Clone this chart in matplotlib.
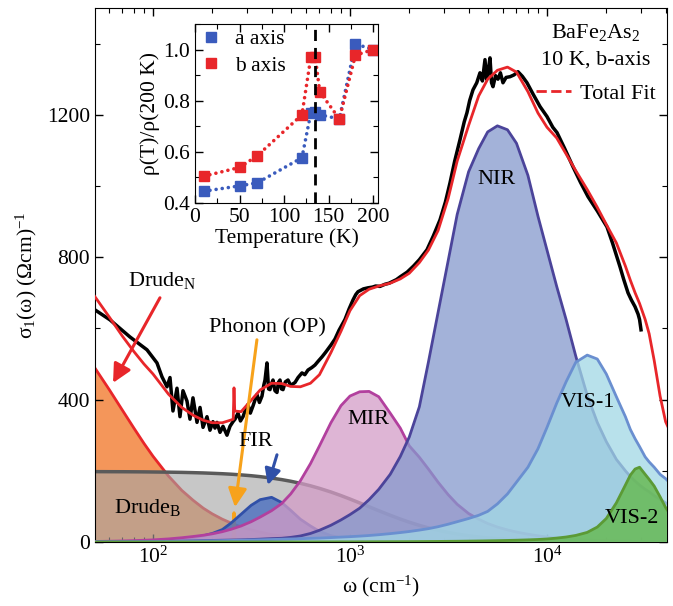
import matplotlib
matplotlib.use('Agg')
import matplotlib.pyplot as plt
from matplotlib.lines import Line2D
from matplotlib.ticker import MultipleLocator

# Rejilla de frecuencias (cm^-1) comun a todas las componentes del ajuste
omega = [50, 60, 70, 80, 90,
         100, 120, 140, 160, 180,
         200, 225, 250, 280, 315,
         350, 400, 450, 500, 560,
         630, 700, 800, 900, 1000,
         1120, 1250, 1400, 1600, 1800,
         2000, 2250, 2500, 2800, 3150,
         3500, 4000, 4500, 5000, 5600,
         6300, 7000, 8000, 9000, 10000,
         11200, 12500, 14000, 16000, 18000,
         20000, 22500, 25000, 26500, 28000,
         29500, 31500, 33000, 35000, 37500,
         40000, 41000]

# Componentes Drude-Lorentz, sigma_1 en (Ohm cm)^-1
drude_n = [494, 428, 370, 320, 277,
           241, 185, 145, 117, 95,
           79, 64, 53, 42, 34,
           28, 21, 17, 14, 11,
           8.8, 7.1, 5.5, 4.3, 3.5,
           2.8, 2.2, 1.8, 1.4, 1.1,
           0.9, 0.7, 0.6, 0.45, 0.36,
           0.29, 0.22, 0.17, 0.14, 0.11,
           0.09, 0.07, 0.05, 0.04, 0.03,
           0.03, 0.02, 0.02, 0.01, 0.01,
           0.01, 0.01, 0, 0, 0,
           0, 0, 0, 0, 0,
           0, 0]
drude_b = [197.7, 197.5, 197.4, 197.2, 197.0,
           196.7, 196.2, 195.6, 194.8, 194.0,
           193.0, 191.8, 190.4, 188.5, 186.2,
           183.6, 179.6, 175.3, 170.7, 164.9,
           157.9, 150.7, 140.5, 130.4, 120.7,
           109.8, 99.0, 87.8, 75.1, 64.4,
           55.6, 46.7, 39.6, 32.9, 26.9,
           22.4, 17.6, 14.2, 11.6, 9.4,
           7.5, 6.1, 4.7, 3.75, 3.05,
           2.44, 1.96, 1.57, 1.2, 0.95,
           0.77, 0.61, 0.49, 0.44, 0.39,
           0.35, 0.31, 0.28, 0.25, 0.22,
           0.19, 0.18]
fir = [0.5, 0.8, 1.2, 1.8, 2.5,
       3.3, 5.5, 8.5, 12.5, 17.5,
       24, 35, 54, 78, 103,
       119, 125.5, 111, 89, 64,
       45, 30, 18, 11.5, 8,
       5.8, 4.3, 3.3, 2.5, 2.0,
       1.6, 1.3, 1.1, 0.9, 0.7,
       0.6, 0.5, 0.4, 0.3, 0.25,
       0.2, 0.15, 0.12, 0.1, 0.08,
       0.06, 0.05, 0.04, 0.03, 0.02,
       0.02, 0.01, 0.01, 0.01, 0.01,
       0, 0, 0, 0, 0,
       0, 0]
mir = [1.5, 2.2, 3.0, 3.9, 4.9,
       6, 8.7, 12, 15.5, 19,
       23, 29, 36, 45, 57,
       70, 88, 108, 135, 172,
       220, 270, 335, 383, 410,
       422, 423, 408, 362, 320,
       270, 238, 205, 168, 133,
       106, 80, 64, 52, 42,
       34, 28, 22, 17.5, 14,
       11, 9, 7, 5.3, 4.2,
       3.4, 2.7, 2.2, 1.9, 1.7,
       1.5, 1.4, 1.3, 1.1, 0.95,
       0.85, 0.8]
nir = [0.3, 0.4, 0.6, 0.8, 1.0,
       1.2, 1.8, 2.4, 3.1, 3.9,
       4.5, 5, 5.5, 6, 7,
       8, 9.5, 10.5, 13, 17,
       24, 33, 47, 62, 77,
       95, 119, 148, 190, 240,
       295, 380, 505, 645, 790,
       920, 1040, 1105, 1152, 1169,
       1158, 1120, 1030, 915, 820,
       718, 625, 522, 412, 336,
       282, 232, 200, 184, 171,
       160, 148, 141, 130, 120,
       110, 107]
vis1 = [0.5, 0.6, 0.8, 1.0, 1.2,
        1.4, 1.8, 2.2, 2.6, 3.0,
        3.4, 3.9, 4.4, 5.0, 5.6,
        6.2, 7.0, 7.8, 8.5, 9.3,
        10.2, 11.0, 12.4, 13.8, 15.0,
        16.5, 18.3, 20.5, 23.5, 26.5,
        29.5, 33.5, 37.5, 43, 50,
        57, 66, 75, 86, 107,
        135, 168, 210, 262, 322,
        390, 450, 505, 525, 514,
        472, 408, 352, 316, 290,
        268, 239, 225, 210, 190,
        178, 172]
vis2 = [0, 0, 0, 0, 0,
        0, 0, 0, 0, 0,
        0, 0, 0, 0, 0,
        0.1, 0.1, 0.1, 0.2, 0.2,
        0.2, 0.3, 0.3, 0.4, 0.4,
        0.5, 0.6, 0.7, 0.8, 0.9,
        1.0, 1.2, 1.4, 1.6, 1.9,
        2.1, 2.5, 2.9, 3.3, 3.8,
        4.4, 5.0, 6.0, 7.1, 8.5,
        11, 14, 18.5, 27, 42,
        66, 110, 160, 188, 205,
        210, 190, 176, 157, 127,
        97, 88]

# Fonon optico (OP), muy estrecho
omega_ph = [50, 252, 255.5, 257.8, 260.2, 264, 41000]
sigma_ph = [0, 0, 12, 82, 12, 0, 0]

# Ajuste total
omega_fit = [50, 60, 70, 80, 90, 100, 120, 140, 160, 180, 200, 225, 250, 255.5, 257.8, 260,
             280, 315, 350, 400, 450, 500, 560, 630, 700, 800, 900, 1000, 1120, 1250, 1400,
             1600, 1800, 2000, 2250, 2500, 2800, 3150, 3500, 4000, 4500, 5000, 5600, 6300,
             7000, 8000, 9000, 10000, 11200, 12500, 14000, 16000, 18000, 20000, 22500, 25000,
             26500, 28000, 29500, 31500, 33000, 35000, 37500, 40000, 41000]
sigma_fit = [694, 632, 578, 535, 500, 472, 415, 378, 356, 342, 335, 335, 343, 345, 433, 368,
             366, 398, 427, 446, 445, 437, 436, 446, 470, 532, 592, 650, 692, 710, 719,
             727, 739, 755, 785, 820, 875, 965, 1070, 1170, 1253, 1300, 1325, 1334,
             1320, 1265, 1205, 1165, 1135, 1090, 1043, 990, 940, 892, 840, 775,
             735, 700, 670, 625, 585, 510, 410, 338, 325]

# Espectro medido a 10 K (eje b)
omega_exp = [50.8, 60.5, 76.4, 93.2, 104.8, 111.1, 117.8, 122.0, 126.3, 132.4, 137.1, 142.0,
             148.8, 154.1, 159.6, 167.3, 173.3, 179.5, 188.0, 194.7, 201.6, 206.4, 211.3,
             218.9, 226.7, 237.5, 246.0, 254.8, 260.8, 270.1, 278, 286.4, 295, 303.5, 312,
             321.8, 330, 337.3, 347, 357.6, 365, 370.4, 379.0, 386, 392.6, 400, 406.6, 416,
             426.1, 433, 441.3, 449, 457.1, 470, 484.6, 500, 525.8, 545, 570.6, 590, 612,
             640, 664, 690, 721, 750, 773, 800, 839, 880, 943, 990, 1036, 1070, 1098, 1170,
             1234, 1300, 1350, 1420, 1506, 1580, 1650, 1720, 1800, 1950, 2100, 2250, 2460,
             2650, 2864, 3050, 3219, 3400, 3617, 3800, 3925, 4050, 4210, 4400, 4569, 4700,
             4845, 4930, 5018, 5137, 5230, 5320, 5480, 5639, 5800, 5978, 6200, 6490, 6800,
             7126, 7500, 7915, 8500, 9219, 10000, 10700, 11243, 12300, 13551, 14800, 16153,
             18000, 20163, 21500, 22500, 23473, 24500, 25774, 26800, 27978, 29000, 29500,
             30006]
sigma_exp = [652, 624, 576, 540, 503, 464, 436, 462, 368, 432, 352, 425,
             396, 345, 405, 336, 378, 322, 352, 314, 338, 320, 336,
             308, 325, 300, 325, 338, 345, 362, 340, 352, 372, 386, 362,
             382, 400, 414, 392, 410, 440, 455, 503, 430, 428, 445, 455, 425,
             420, 448, 455, 430, 428, 450, 455, 440, 448, 462, 475, 470, 483,
             490, 497, 508, 520, 532, 542, 553, 570, 595, 625, 655, 680, 695, 703, 711,
             714, 716, 719, 718, 724, 727, 732, 737, 745, 758, 775, 793, 821,
             860, 905, 955, 1009, 1070, 1130, 1180, 1206, 1240, 1270, 1290, 1318, 1295,
             1355, 1300, 1320, 1360, 1290, 1279, 1310, 1300, 1318, 1290, 1305, 1307, 1312,
             1321, 1308, 1290, 1258, 1223, 1195, 1165, 1150, 1105, 1054, 1010, 970,
             930, 885, 840, 805, 773, 738, 700, 680, 661, 640, 625,
             596]

# Resistividad normalizada (inset)
temp_a = [10, 50, 70, 120, 130, 135, 140, 162, 180, 200]
rho_a = [0.446, 0.467, 0.479, 0.577, 0.752, 0.757, 0.745, 0.729, 1.022, 1.0]
temp_b = [10, 50, 70, 120, 130, 135, 140, 162, 180, 200]
rho_b = [0.505, 0.539, 0.585, 0.745, 0.970, 0.970, 0.835, 0.729, 0.978, 1.0]
t_transicion = 135

plt.rcParams['font.family'] = ['Liberation Serif', 'DejaVu Serif']
plt.rcParams['mathtext.fontset'] = 'custom'
plt.rcParams['mathtext.rm'] = 'Liberation Serif'
plt.rcParams['mathtext.it'] = 'Liberation Serif:italic'
plt.rcParams['mathtext.bf'] = 'Liberation Serif:bold'
plt.rcParams['font.size'] = 15.5


def banda(ax, w, s, cara, borde, alfa, z, lw=2.0):
    ax.fill_between(w, 0, s, facecolor=cara, alpha=alfa, lw=0, zorder=z)
    ax.plot(w, s, color=borde, lw=lw, zorder=z + 0.1)


def ticks_dentro(ax):
    ax.tick_params(which='both', direction='in', top=True, right=True, labelsize=15.5)
    ax.tick_params(which='major', length=6, width=1)
    ax.tick_params(which='minor', length=3.5, width=0.8)


fig = plt.figure(figsize=(6.73, 6.06), dpi=100)
ax = fig.add_axes([0.1412, 0.1056, 0.8499, 0.8812])

banda(ax, omega, drude_n, '#f4965a', '#e8262a', 1.0, 1)
banda(ax, omega, drude_b, '#a5a5a5', '#5a5a5a', 0.62, 2, lw=2.5)
ax.plot(omega_ph, sigma_ph, color='#f7a21b', lw=2.2, zorder=2.5)
banda(ax, omega, fir, '#4a6fc0', '#3050a8', 0.8, 3)
banda(ax, omega, mir, '#d49dc7', '#b2409e', 0.75, 4)
banda(ax, omega, nir, '#8599cd', '#4b449a', 0.75, 5)
banda(ax, omega, vis1, '#a1d8e5', '#6a8fd0', 0.75, 6)
banda(ax, omega, vis2, '#68ba55', '#5b9a35', 0.85, 7)

ax.plot(omega_exp, sigma_exp, color='black', lw=2.5, zorder=10)
ax.plot(omega_fit, sigma_fit, color='#e8262a', lw=2.0, zorder=11)

ax.set_xscale('log')
ax.set_xlim(50.8, 40660)
ax.set_ylim(0, 1500)
ax.yaxis.set_major_locator(MultipleLocator(400))
ax.yaxis.set_minor_locator(MultipleLocator(200))
ticks_dentro(ax)
ax.set_xlabel('ω (cm$^{-1}$)', fontsize=15.5, labelpad=4)
ax.set_ylabel('σ$_1$(ω) (Ωcm)$^{-1}$', fontsize=15.5, labelpad=6)

# Etiquetas y flechas de los componentes
flecha = dict(arrowstyle='-|>', lw=2.2, mutation_scale=28, shrinkA=0, shrinkB=0)
ax.text(112, 735, 'Drude$_\\mathrm{N}$', ha='center', va='center', fontsize=16, zorder=20)
ax.annotate('', xy=(62.7, 447), xytext=(108.5, 686),
            arrowprops=dict(flecha, color='#e8262a'), zorder=20)
ax.text(379, 601, 'Phonon (OP)', ha='center', va='center', fontsize=16, zorder=20)
ax.annotate('', xy=(260.8, 98), xytext=(337, 568),
            arrowprops=dict(flecha, color='#f7a21b'), zorder=20)
ax.text(333, 281, 'FIR', ha='center', va='center', fontsize=16, zorder=20)
ax.annotate('', xy=(383, 160), xytext=(426, 245),
            arrowprops=dict(flecha, color='#3050a8', mutation_scale=24), zorder=20)
ax.text(94.3, 96, 'Drude$_\\mathrm{B}$', ha='center', va='center', fontsize=16, zorder=20)
ax.text(1234, 343, 'MIR', ha='center', va='center', fontsize=16, zorder=20)
ax.text(5573, 1018, 'NIR', ha='center', va='center', fontsize=16, zorder=20)
ax.text(16153, 391, 'VIS-1', ha='center', va='center', fontsize=16, zorder=20)
ax.text(27011, 67, 'VIS-2', ha='center', va='center', fontsize=16, zorder=20)

ax.text(0.876, 0.955, 'BaFe$_2$As$_2$', transform=ax.transAxes, ha='center', va='center', fontsize=16)
ax.text(0.876, 0.903, '10 K, b-axis', transform=ax.transAxes, ha='center', va='center', fontsize=16)
ax.legend(handles=[Line2D([], [], color='#e8262a', ls='--', lw=2)], labels=['Total Fit'],
          loc='center right', bbox_to_anchor=(1.0, 0.839), frameon=False, fontsize=16,
          handlelength=1.6, handletextpad=0.4, borderaxespad=0.1)

# Inset con la resistividad
ins = fig.add_axes([0.2897, 0.665, 0.2719, 0.2954])
punteado = (0, (0.01, 1.7))
ins.plot(temp_a, rho_a, color='#3a5bbd', ls=punteado, lw=2.6, dash_capstyle='round')
ins.plot(temp_b, rho_b, color='#e8262a', ls=punteado, lw=2.6, dash_capstyle='round')
ins.plot(temp_a, rho_a, 's', color='#3a5bbd', ms=7, ls='none', label='a axis')
ins.plot(temp_b, rho_b, 's', color='#e8262a', ms=7, ls='none', label='b axis')
ins.axvline(t_transicion, color='black', ls=(0, (4, 2.5)), lw=2)
ins.set_xlim(0, 205.3)
ins.set_ylim(0.4, 1.1)
ins.xaxis.set_major_locator(MultipleLocator(50))
ins.xaxis.set_minor_locator(MultipleLocator(25))
ins.yaxis.set_minor_locator(MultipleLocator(0.1))
ins.set_yticks([0.4, 0.6, 0.8, 1.0])
ins.set_yticklabels(['0.4', '0.6', '0.8', '1.0'])
ticks_dentro(ins)
ins.set_xlabel('Temperature (K)', fontsize=15.5, labelpad=1)
ins.set_ylabel('ρ(T)/ρ(200 K)', fontsize=15.5, labelpad=2)
ins.legend(loc='upper left', frameon=False, fontsize=15.5, handletextpad=0.6,
           borderaxespad=0.05, borderpad=0.2, labelspacing=0.3, handlelength=1.0)

fig.savefig('out.png', dpi=100)
